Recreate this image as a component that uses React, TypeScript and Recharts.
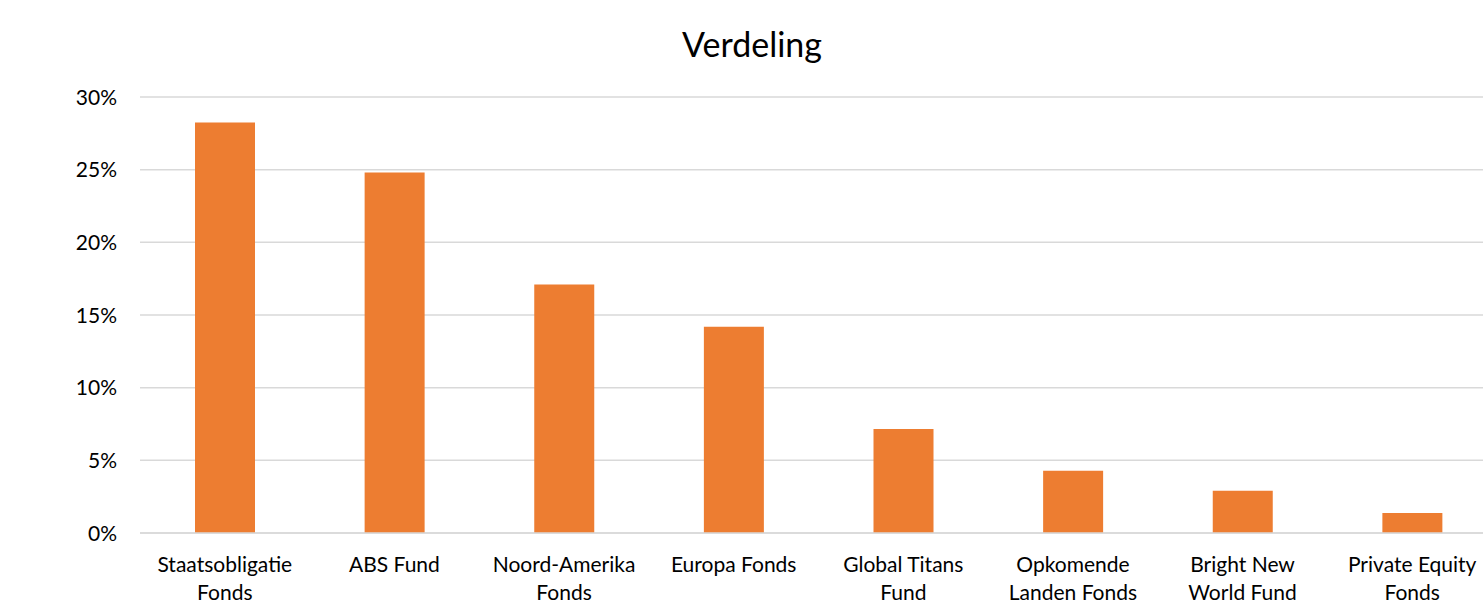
import React from "react";
import { BarChart, Bar, XAxis, YAxis, CartesianGrid } from "recharts";

const categories = [
  "Staatsobligatie\nFonds",
  "ABS Fund",
  "Noord-Amerika\nFonds",
  "Europa Fonds",
  "Global Titans\nFund",
  "Opkomende\nLanden Fonds",
  "Bright New\nWorld Fund",
  "Private Equity\nFonds",
];
const values = [0.2825, 0.248, 0.171, 0.142, 0.0715, 0.0428, 0.029, 0.0138];
const yTicks = [0, 0.05, 0.1, 0.15, 0.2, 0.25, 0.3];

const data = categories.map((name, i) => ({ name, value: values[i] }));

const FONT = "Lato, 'Liberation Sans', sans-serif";

const XTick = (props: any) => {
  const { x, y, payload } = props;
  const lines = String(payload.value).split("\n");
  return (
    <g>
      {lines.map((l: string, i: number) => (
        <text
          key={i}
          x={x}
          y={y + 31 + i * 27.5}
          textAnchor="middle"
          fontFamily={FONT}
          fontSize={21}
          fill="#000"
        >
          {l}
        </text>
      ))}
    </g>
  );
};

const YTick = (props: any) => {
  const { y, payload } = props;
  return (
    <text
      x={117}
      y={y + 7.5}
      textAnchor="end"
      fontFamily={FONT}
      fontSize={21}
      fill="#000"
    >
      {Math.round(payload.value * 100) + "%"}
    </text>
  );
};

export default function App() {
  return (
    <div
      style={{
        position: "absolute",
        left: 0,
        top: 0,
        width: 1483,
        height: 616,
        background: "#fff",
        overflow: "hidden",
      }}
    >
      <div
        style={{
          position: "absolute",
          left: 752,
          top: 23,
          transform: "translateX(-50%)",
          fontFamily: FONT,
          fontSize: 34,
          color: "#000",
          whiteSpace: "nowrap",
          lineHeight: "42px",
        }}
      >
        Verdeling
      </div>
      <BarChart
        width={1497}
        height={616}
        data={data}
        margin={{ top: 97, right: 0, bottom: 0, left: 0 }}
        barCategoryGap={0}
      >
        <CartesianGrid vertical={false} stroke="#d9d9d9" strokeWidth={1.5} />
        <XAxis
          dataKey="name"
          axisLine={{ stroke: "#d9d9d9", strokeWidth: 1.5 }}
          tickLine={false}
          tick={<XTick />}
          interval={0}
          height={83}
        />
        <YAxis
          width={140}
          domain={[0, 0.3]}
          ticks={yTicks}
          axisLine={false}
          tickLine={false}
          tick={<YTick />}
        />
        <Bar dataKey="value" fill="#ED7D31" barSize={60} isAnimationActive={false} />
      </BarChart>
    </div>
  );
}
